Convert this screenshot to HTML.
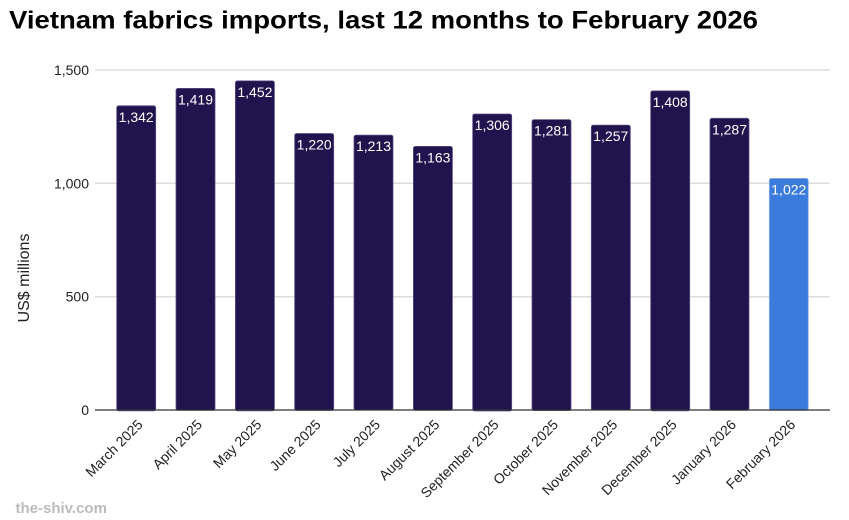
<!DOCTYPE html>
<html><head><meta charset="utf-8"><style>
html,body{margin:0;padding:0;background:#fff;}
svg{display:block;font-family:"Liberation Sans",Arial,sans-serif;}
</style></head><body>
<svg width="849" height="520" viewBox="0 0 849 520" xmlns="http://www.w3.org/2000/svg">
<rect width="849" height="520" fill="#fff"/>
<text x="9" y="28.5" font-size="25" font-weight="bold" fill="#000" textLength="749" lengthAdjust="spacingAndGlyphs">Vietnam fabrics imports, last 12 months to February 2026</text>

<g stroke="#dddddd" stroke-width="1.5">
<line x1="95" y1="70" x2="830" y2="70"/>
<line x1="95" y1="183.3" x2="830" y2="183.3"/>
<line x1="95" y1="296.7" x2="830" y2="296.7"/>
</g>
<g font-size="14" fill="#222" text-anchor="end">
<text x="89" y="75">1,500</text>
<text x="89" y="188.3">1,000</text>
<text x="89" y="301.7">500</text>
<text x="89" y="415">0</text>
</g>
<text x="29" y="278" font-size="16" fill="#222" text-anchor="middle" transform="rotate(-90 29 278)">US$ millions</text>

<g stroke="#5b4f86" stroke-width="0.8">
<rect x="116.7" y="105.8" width="39" height="305" rx="2" fill="#21134d"/>
<rect x="176.0" y="88.4" width="39" height="322" rx="2" fill="#21134d"/>
<rect x="235.4" y="80.9" width="39" height="330" rx="2" fill="#21134d"/>
<rect x="294.7" y="133.5" width="39" height="277" rx="2" fill="#21134d"/>
<rect x="354.0" y="135.1" width="39" height="275" rx="2" fill="#21134d"/>
<rect x="413.4" y="146.4" width="39" height="264" rx="2" fill="#21134d"/>
<rect x="472.7" y="114.0" width="39" height="297" rx="2" fill="#21134d"/>
<rect x="532.0" y="119.6" width="39" height="291" rx="2" fill="#21134d"/>
<rect x="591.3" y="125.1" width="39" height="285" rx="2" fill="#21134d"/>
<rect x="650.7" y="90.9" width="39" height="320" rx="2" fill="#21134d"/>
<rect x="710.0" y="118.3" width="39" height="292" rx="2" fill="#21134d"/>
<rect x="769.3" y="178.4" width="39" height="232" rx="2" fill="#3b7bdb" stroke="#8fb4ec"/>
</g>
<line x1="95" y1="410" x2="830" y2="410" stroke="#333" stroke-width="1.2"/>

<g font-size="14" fill="#fff" text-anchor="middle">
<text x="136.2" y="121.8">1,342</text>
<text x="195.5" y="104.4">1,419</text>
<text x="254.9" y="96.9">1,452</text>
<text x="314.2" y="149.5">1,220</text>
<text x="373.5" y="151.1">1,213</text>
<text x="432.9" y="162.4">1,163</text>
<text x="492.2" y="130.0">1,306</text>
<text x="551.5" y="135.6">1,281</text>
<text x="610.8" y="141.1">1,257</text>
<text x="670.2" y="106.9">1,408</text>
<text x="729.5" y="134.3">1,287</text>
<text x="788.8" y="194.4">1,022</text>
</g>

<g font-size="14" fill="#222" text-anchor="end">
<text x="143.7" y="425.5" transform="rotate(-45 143.7 425.5)">March 2025</text>
<text x="203.0" y="425.5" transform="rotate(-45 203.0 425.5)">April 2025</text>
<text x="262.4" y="425.5" transform="rotate(-45 262.4 425.5)">May 2025</text>
<text x="321.7" y="425.5" transform="rotate(-45 321.7 425.5)">June 2025</text>
<text x="381.0" y="425.5" transform="rotate(-45 381.0 425.5)">July 2025</text>
<text x="440.4" y="425.5" transform="rotate(-45 440.4 425.5)">August 2025</text>
<text x="499.7" y="425.5" transform="rotate(-45 499.7 425.5)">September 2025</text>
<text x="559.0" y="425.5" transform="rotate(-45 559.0 425.5)">October 2025</text>
<text x="618.3" y="425.5" transform="rotate(-45 618.3 425.5)">November 2025</text>
<text x="677.7" y="425.5" transform="rotate(-45 677.7 425.5)">December 2025</text>
<text x="737.0" y="425.5" transform="rotate(-45 737.0 425.5)">January 2026</text>
<text x="796.3" y="425.5" transform="rotate(-45 796.3 425.5)">February 2026</text>
</g>

<text x="15.5" y="513" font-size="15" font-weight="bold" fill="#bbbbbb">the-shiv.com</text>
</svg>
</body></html>
